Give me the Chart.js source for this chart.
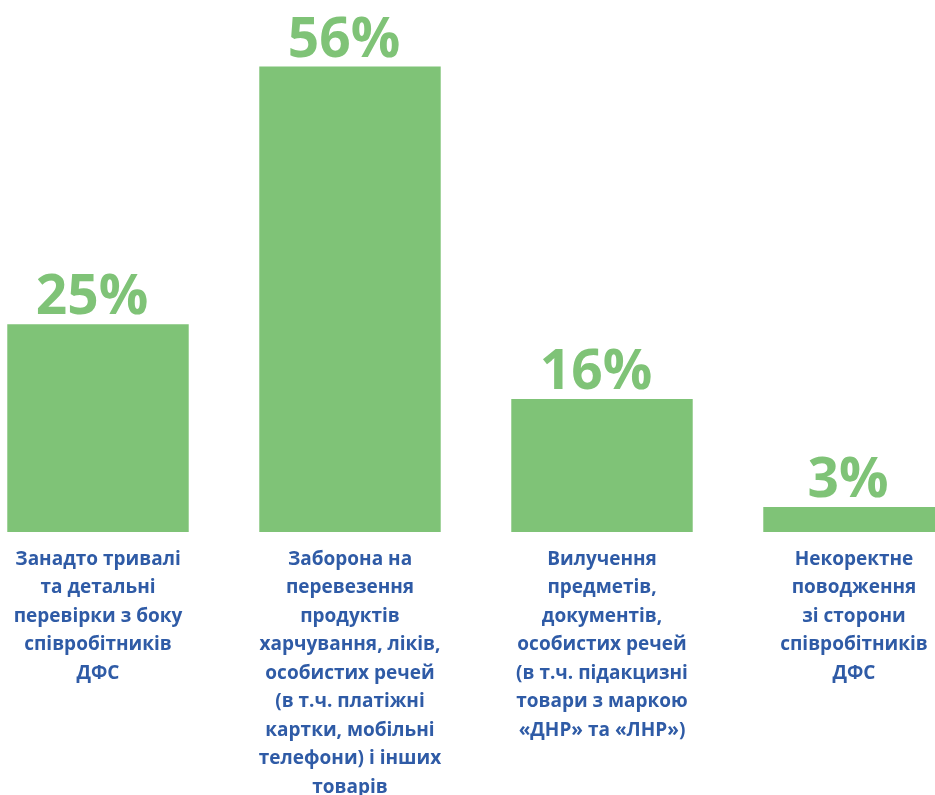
<!DOCTYPE html>
<html>
<head>
<meta charset="utf-8">
<script src="https://cdn.jsdelivr.net/npm/chart.js@4"></script>
<style>
  html, body { margin: 0; padding: 0; background: #fff; overflow: hidden; }
  #wrap { position: absolute; left: -28px; top: 0; width: 1008px; height: 795px; }
</style>
</head>
<body>
<div id="wrap"><canvas id="chart" width="1008" height="795"></canvas></div>
<script>
// categories (each one split into lines as in the picture)
const categories = [
  ['Занадто тривалі', 'та детальні', 'перевірки з боку', 'співробітників', 'ДФС'],
  ['Заборона на', 'перевезення', 'продуктів', 'харчування, ліків,', 'особистих речей', '(в т.ч. платіжні', 'картки, мобільні', 'телефони) і інших', 'товарів'],
  ['Вилучення', 'предметів,', 'документів,', 'особистих речей', '(в т.ч. підакцизні', 'товари з маркою', '«ДНР» та «ЛНР»)'],
  ['Некоректне', 'поводження', 'зі сторони', 'співробітників', 'ДФС']
];
const values = [25, 56, 16, 3];

const green = '#7FC377';
const blue = '#2F5BA6';

const valueLabels = {
  id: 'valueLabels',
  afterDatasetsDraw(chart) {
    const ctx = chart.ctx;
    const meta = chart.getDatasetMeta(0);
    ctx.save();
    ctx.fillStyle = green;
    ctx.font = 'bold 55px "Open Sans"';
    ctx.textAlign = 'center';
    ctx.textBaseline = 'alphabetic';
    meta.data.forEach((bar, i) => {
      ctx.fillText(values[i] + '%', bar.x - 6, bar.y - 10);
    });
    ctx.restore();
  }
};

new Chart(document.getElementById('chart'), {
  type: 'bar',
  data: {
    labels: categories,
    datasets: [{
      data: values,
      backgroundColor: green,
      borderWidth: 0,
      barPercentage: 0.72,
      categoryPercentage: 1
    }]
  },
  options: {
    responsive: false,
    animation: false,
    layout: { padding: 0 },
    plugins: {
      legend: { display: false },
      tooltip: { enabled: false }
    },
    scales: {
      x: {
        grid: { display: false },
        border: { display: false },
        ticks: {
          color: blue,
          autoSkip: false,
          maxRotation: 0,
          padding: 5,
          font: { family: '"Open Sans"', size: 19, weight: 'bold', lineHeight: 1.5 }
        },
        afterFit(scale) { scale.height = 263; }
      },
      y: {
        display: false,
        min: 0,
        max: 64
      }
    }
  },
  plugins: [valueLabels]
});
</script>
</body>
</html>
